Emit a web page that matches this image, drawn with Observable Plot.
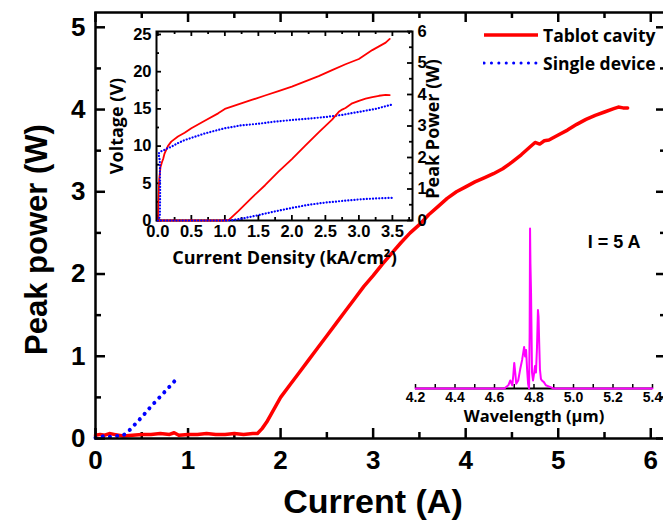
<!DOCTYPE html>
<html><head><meta charset="utf-8">
<script src="https://cdn.jsdelivr.net/npm/d3@7"></script>
<script src="https://cdn.jsdelivr.net/npm/@observablehq/plot@0.6"></script>
<style>
html,body{margin:0;padding:0;background:#fff;overflow:hidden}
#wrap{position:relative;width:663px;height:525px;overflow:hidden;background:#fff}
#wrap svg.p{position:absolute;left:0;top:0}
.leg{position:absolute;left:483px;height:24px;display:flex;align-items:center;white-space:nowrap;
 font-family:'Open Sans',Lato,'Liberation Sans',sans-serif;font-weight:700;font-size:17.5px;color:#000}
.leg svg{margin-right:4px}
</style></head><body><div id="wrap"></div>
<script>
// ---------- main chart data (Peak power vs current) ----------
const mainCurrentTablot = [0,0.05,0.1,0.15,0.2,0.3,0.4,0.5,0.6,0.7,0.8,0.85,0.9,1.0,1.1,1.2,1.3,1.4,1.5,1.6,1.7,1.75,1.8,1.85,1.9,1.95,2.0,2.1,2.2,2.3,2.4,2.5,2.6,2.7,2.8,2.9,3.0,3.1,3.2,3.3,3.4,3.5,3.6,3.7,3.8,3.9,4.0,4.1,4.2,4.3,4.4,4.5,4.6,4.7,4.75,4.8,4.85,4.9,5.0,5.1,5.2,5.3,5.4,5.5,5.6,5.65,5.7,5.75];
const mainPowerTablot   = [0.04,0.05,0.04,0.06,0.05,0.03,0.04,0.05,0.05,0.06,0.05,0.07,0.04,0.05,0.05,0.06,0.05,0.05,0.06,0.05,0.06,0.06,0.12,0.2,0.3,0.4,0.5,0.65,0.8,0.95,1.1,1.25,1.4,1.55,1.7,1.85,1.98,2.12,2.25,2.38,2.5,2.6,2.72,2.82,2.92,3.0,3.06,3.12,3.17,3.22,3.28,3.36,3.45,3.55,3.6,3.58,3.62,3.63,3.69,3.75,3.82,3.88,3.93,3.97,4.01,4.03,4.02,4.02];
const mainCurrentSingle = [0,0.05,0.1,0.15,0.2,0.25,0.3,0.35,0.4,0.5,0.6,0.7,0.8,0.88];
const mainPowerSingle   = [0.01,0.02,0.03,0.02,0.03,0.03,0.04,0.08,0.14,0.26,0.39,0.51,0.63,0.73];
const mainXTicks = [0,1,2,3,4,5,6];
const mainYTicks = [0,1,2,3,4,5];
const seriesNames = ["Tablot cavity","Single device"];

// ---------- inset 1: voltage / peak power vs current density ----------
const insetJVoltTablot = [0,0.01,0.02,0.04,0.06,0.08,0.1,0.15,0.2,0.3,0.4,0.5,0.7,0.9,1.0,1.2,1.4,1.6,1.8,2.0,2.2,2.4,2.6,2.8,3.0,3.1,3.2,3.3,3.4,3.46];
const insetVoltTablot  = [0,3,5.5,7.2,7.8,8.3,9,10,10.6,11.3,11.8,12.4,13.4,14.4,15.0,15.6,16.2,16.8,17.4,18.0,18.7,19.4,20.2,21.0,21.7,22.3,22.9,23.4,23.9,24.4];
const insetJVoltSingle = [0,0.03,0.035,0.03,0.01,0.05,0.08,0.12,0.2,0.3,0.4,0.5,0.7,1.0,1.25,1.5,1.75,2.0,2.25,2.5,2.75,3.0,3.25,3.5];
const insetVoltSingle  = [0,0.5,4,8,9.0,9.3,9.4,9.6,9.9,10.4,10.8,11.1,11.7,12.4,12.8,13.0,13.3,13.5,13.7,13.9,14.2,14.6,15.0,15.6];
const insetJPowTablot  = [0,0.2,0.4,0.6,0.8,1.0,1.06,1.2,1.4,1.6,1.8,2.0,2.2,2.4,2.6,2.7,2.75,2.8,2.9,3.0,3.1,3.2,3.3,3.4,3.46];
const insetPowTablot   = [0,0,0,0,0,0,0.02,0.3,0.72,1.12,1.55,1.95,2.38,2.8,3.2,3.45,3.52,3.57,3.72,3.8,3.87,3.92,3.96,3.99,3.98];
const insetJPowSingle  = [0,0.5,1.0,1.1,1.3,1.5,1.75,2.0,2.25,2.5,2.75,3.0,3.25,3.5];
const insetPowSingle   = [0,0,0,0.01,0.08,0.17,0.29,0.4,0.5,0.57,0.62,0.67,0.7,0.72];
const insetXTicks = [0,0.5,1.0,1.5,2.0,2.5,3.0,3.5];
const insetVTicks = [0,5,10,15,20,25];
const insetPTicks = [0,1,2,3,4,5,6];

// ---------- inset 2: spectrum at I = 5 A ----------
const wavelength = [4.2,4.3,4.4,4.5,4.6,4.65,4.67,4.68,4.69,4.695,4.70,4.705,4.71,4.72,4.73,4.74,4.745,4.75,4.755,4.76,4.765,4.77,4.775,4.778,4.780,4.782,4.785,4.79,4.795,4.80,4.805,4.81,4.815,4.82,4.823,4.826,4.83,4.835,4.84,4.85,4.86,4.88,4.9,5.0,5.2,5.4];
const intensity  = [0,0,0,0,0,0,0.02,0.05,0.02,0.08,0.16,0.1,0.03,0.05,0.12,0.18,0.22,0.26,0.2,0.24,0.12,0.03,0.0,0.35,1.0,0.78,0.6,0.1,0.05,0.09,0.14,0.1,0.25,0.49,0.45,0.3,0.12,0.06,0.05,0.04,0.02,0.01,0,0,0,0];
const specTicks = [4.2,4.4,4.6,4.8,5.0,5.2,5.4];

// ---------- styling ----------
const ARIAL = "'Liberation Sans', Arial, sans-serif";
const CAL = "'Open Sans', Lato, 'Liberation Sans', sans-serif";
const STYLE = {background:"transparent", maxWidth:"none", overflow:"visible", fontFamily:ARIAL, color:"black"};
const RED = "#ff0000", BLUE = "#0000ff", MAG = "#ff00ff";
const zip = (a,b) => a.map((v,i)=>({x:v, y:b[i]}));
const wrap = document.getElementById("wrap");
function add(svg){ svg.classList.add("p"); wrap.appendChild(svg); }

// ---------- main ----------
{
  const W=668,H=525,mL=95,mR=2,mT=12,mB=87, iw=W-mL-mR, ih=H-mT-mB;
  const minorX = d3.range(0.5,6.2,1), minorY = d3.range(0.5,5.2,1);
  add(Plot.plot({
    width:W, height:H, marginLeft:mL, marginRight:mR, marginTop:mT, marginBottom:mB,
    x:{domain:[0,6.17], label:null}, y:{domain:[0,5.18], label:null}, style:STYLE,
    marks:[
      Plot.tickX(mainXTicks,{insetTop:ih-10,strokeWidth:2.5}),
      Plot.tickX(minorX,{insetTop:ih-6,strokeWidth:2.5}),
      Plot.tickX(mainXTicks,{insetBottom:ih-10,strokeWidth:2.5}),
      Plot.tickX(minorX,{insetBottom:ih-6,strokeWidth:2.5}),
      Plot.tickY(mainYTicks,{insetRight:iw-10,strokeWidth:2.5}),
      Plot.tickY(minorY,{insetRight:iw-6,strokeWidth:2.5}),
      Plot.tickY(mainYTicks,{insetLeft:iw-10,strokeWidth:2.5}),
      Plot.tickY(minorY,{insetLeft:iw-6,strokeWidth:2.5}),
      Plot.axisX(mainXTicks,{tickSize:0,tickPadding:12,fontSize:26,fontWeight:"bold",label:null,tickFormat:d=>d}),
      Plot.axisY(mainYTicks,{tickSize:0,tickPadding:10,fontSize:26,fontWeight:"bold",label:null,tickFormat:d=>d}),
      Plot.line(zip(mainCurrentTablot,mainPowerTablot),{x:"x",y:"y",stroke:RED,strokeWidth:3.5}),
      Plot.line(zip(mainCurrentSingle,mainPowerSingle),{x:"x",y:"y",stroke:BLUE,strokeWidth:4,strokeDasharray:"0.1,7.2",strokeLinecap:"round"}),
      Plot.frame({strokeWidth:2.5}),
      Plot.text(["Current (A)"],{frameAnchor:"bottom",textAnchor:"middle",lineAnchor:"middle",dy:64,dx:-8,fontSize:34,fontWeight:"bold"}),
      Plot.text(["Peak power (W)"],{frameAnchor:"left",textAnchor:"middle",lineAnchor:"middle",rotate:-90,dx:-58,dy:14,fontSize:31,fontWeight:"bold"})
    ]
  }));
}

// ---------- inset 1 ----------
{
  const W=663,H=525,mL=156,mR=251,mT=31,mB=305, iw=W-mL-mR, ih=H-mT-mB;
  const minorX = d3.range(0.25,3.8,0.5), minorV = d3.range(2.5,25.4,5), minorP = d3.range(0.5,6,1);
  const common = {width:W,height:H,marginLeft:mL,marginRight:mR,marginTop:mT,marginBottom:mB,style:STYLE};
  add(Plot.plot({...common, x:{domain:[-0.02,3.8],label:null}, y:{domain:[0,25.4],label:null},
    marks:[
      Plot.tickX(insetXTicks,{insetTop:ih-5,strokeWidth:1.8}),
      Plot.tickX(minorX,{insetTop:ih-3,strokeWidth:1.8}),
      Plot.tickX(insetXTicks,{insetBottom:ih-5,strokeWidth:1.8}),
      Plot.tickX(minorX,{insetBottom:ih-3,strokeWidth:1.8}),
      Plot.tickY(insetVTicks,{insetRight:iw-5,strokeWidth:1.8}),
      Plot.tickY(minorV,{insetRight:iw-3,strokeWidth:1.8}),
      Plot.axisX(insetXTicks,{tickSize:0,tickPadding:5,fontSize:16.5,fontWeight:"bold",label:null,tickFormat:d3.format(".1f")}),
      Plot.axisY(insetVTicks,{tickSize:0,tickPadding:5,fontSize:16.5,fontWeight:"bold",label:null,tickFormat:d=>d}),
      Plot.line(zip(insetJVoltTablot,insetVoltTablot),{x:"x",y:"y",stroke:RED,strokeWidth:1.8}),
      Plot.line(zip(insetJVoltSingle,insetVoltSingle),{x:"x",y:"y",stroke:BLUE,strokeWidth:2.2,strokeDasharray:"0.1,3",strokeLinecap:"round"}),
      Plot.frame({strokeWidth:2}),
      Plot.text(["Current Density (kA/cm²)"],{frameAnchor:"bottom",textAnchor:"middle",lineAnchor:"middle",dy:38,fontSize:18,fontWeight:"bold",fontFamily:CAL}),
      Plot.text(["Voltage (V)"],{frameAnchor:"left",textAnchor:"middle",lineAnchor:"middle",rotate:-90,dx:-39,fontSize:18,fontWeight:"bold",fontFamily:CAL})
    ]}));
  add(Plot.plot({...common, x:{domain:[-0.02,3.8],axis:null,label:null}, y:{domain:[0,6],label:null},
    marks:[
      Plot.tickY(insetPTicks,{insetLeft:iw-5,strokeWidth:1.8}),
      Plot.tickY(minorP,{insetLeft:iw-3,strokeWidth:1.8}),
      Plot.axisY(insetPTicks,{anchor:"right",tickSize:0,tickPadding:5,fontSize:16.5,fontWeight:"bold",label:null,tickFormat:d=>d}),
      Plot.line(zip(insetJPowTablot,insetPowTablot),{x:"x",y:"y",stroke:RED,strokeWidth:1.8}),
      Plot.line(zip(insetJPowSingle,insetPowSingle),{x:"x",y:"y",stroke:BLUE,strokeWidth:2.2,strokeDasharray:"0.1,3",strokeLinecap:"round"}),
      Plot.text(["Peak Power (W)"],{frameAnchor:"right",textAnchor:"middle",lineAnchor:"middle",rotate:-90,dx:21,dy:3,fontSize:18,fontWeight:"bold",fontFamily:CAL})
    ]}));
}

// ---------- inset 2: spectrum ----------
{
  const W=663,H=525,mL=415,mR=11,mT=228,mB=137, ih=H-mT-mB;
  const minor = d3.range(4.2,5.41,0.1);
  add(Plot.plot({width:W,height:H,marginLeft:mL,marginRight:mR,marginTop:mT,marginBottom:mB,
    x:{domain:[4.2,5.4],label:null}, y:{domain:[0,1],axis:null,label:null}, style:STYLE,
    marks:[
      Plot.ruleY([0],{strokeWidth:2}),
      Plot.tickX(minor,{insetTop:ih-4,strokeWidth:1.5}),
      Plot.axisX(specTicks,{tickSize:0,tickPadding:4,fontSize:14,fontWeight:"bold",label:null,tickFormat:d3.format(".1f")}),
      Plot.line(zip(wavelength,intensity),{x:"x",y:"y",stroke:MAG,strokeWidth:2}),
      Plot.text(["Wavelength (µm)"],{frameAnchor:"bottom",textAnchor:"middle",lineAnchor:"middle",dy:28,fontSize:16.5,fontWeight:"bold",fontFamily:CAL}),
      Plot.text(["I = 5 A"],{frameAnchor:"top-right",textAnchor:"end",lineAnchor:"middle",dx:-12,dy:14,fontSize:18,fontWeight:"bold"})
    ]}));
}

// ---------- legend ----------
const legendStyles = [
  {stroke:RED, width:3.5, dash:null, cy:35},
  {stroke:BLUE, width:3, dash:"0.1,7.3", cy:63}
];
seriesNames.forEach((name,i)=>{
  const s = legendStyles[i];
  const div = document.createElement("div");
  div.className = "leg";
  div.style.top = (s.cy-12)+"px";
  div.innerHTML = `<svg width="56" height="10"><line x1="1" x2="55" y1="5" y2="5" stroke="${s.stroke}" stroke-width="${s.width}" ${s.dash?`stroke-dasharray="${s.dash}" stroke-linecap="round"`:""}/></svg><span>${name}</span>`;
  wrap.appendChild(div);
});
</script></body></html>
